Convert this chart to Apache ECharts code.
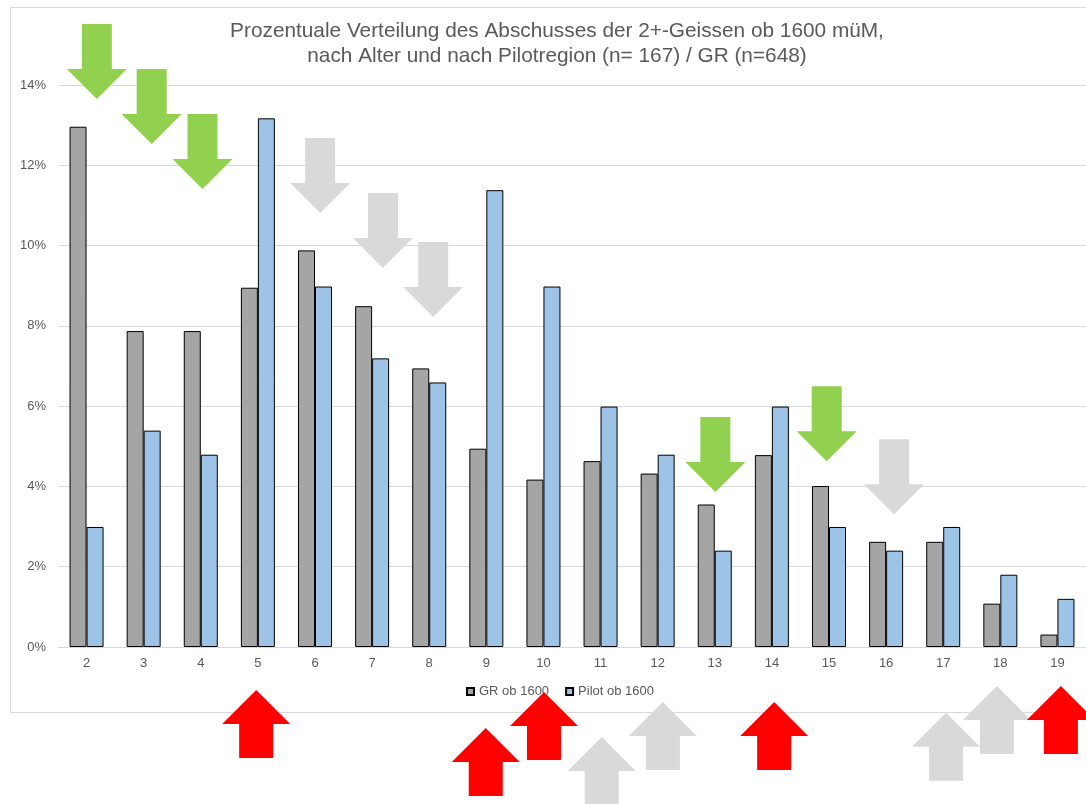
<!DOCTYPE html>
<html>
<head>
<meta charset="utf-8">
<script src="https://cdn.jsdelivr.net/npm/echarts@6/dist/echarts.min.js"></script>
<style>
  html, body { margin: 0; padding: 0; background: #ffffff; }
  #chart { width: 1086px; height: 804px; }
</style>
</head>
<body>
<div id="chart"></div>
<script>
// ---- data ----
const titleLines = [
  'Prozentuale Verteilung des Abschusses der 2+-Geissen ob 1600 müM,',
  'nach Alter und nach Pilotregion (n= 167) / GR (n=648)'
];
const categories = ['2','3','4','5','6','7','8','9','10','11','12','13','14','15','16','17','18','19'];
const grName = 'GR ob 1600';
const pilotName = 'Pilot ob 1600';
const grValues = [12.96, 7.87, 7.87, 8.95, 9.88, 8.49, 6.94, 4.94, 4.17, 4.63, 4.32, 3.55, 4.78, 4.01, 2.62, 2.62, 1.08, 0.31];
const pilotValues = [2.99, 5.39, 4.79, 13.17, 8.98, 7.19, 6.59, 11.38, 8.98, 5.99, 4.79, 2.40, 5.99, 2.99, 2.40, 2.99, 1.80, 1.20];
const yMin = 0, yMax = 14, yInterval = 2;

// annotation arrows: position along category axis (index), tip value (%)
const downArrowPos = [0.18, 1.14, 2.03, 4.09, 5.19, 6.07, 11.01, 12.96, 14.14];
const downArrowVal = [13.65, 12.53, 11.41, 10.81, 9.44, 8.22, 3.86, 4.63, 3.31];
const downArrowKind = ['green','green','green','grey','grey','grey','green','green','grey'];
const upArrowPos = [2.97, 6.99, 8.01, 9.02, 10.09, 12.04, 15.05, 15.94, 17.06];
const upArrowVal = [-1.07, -2.02, -1.12, -2.24, -1.37, -1.37, -1.64, -0.97, -0.97];
const upArrowKind = ['red','red','red','grey','grey','red','grey','grey','red'];

// ---- styles ----
const arrowColors = { green: '#92d050', grey: '#d9d9d9', red: '#ff0000' };
const textColor = '#595959';
const fontFamily = '"Liberation Sans", Arial, sans-serif';

const chart = echarts.init(document.getElementById('chart'), null, { renderer: 'canvas' });

const baseGraphics = [
  {
    type: 'rect', id: 'border', z: 0, silent: true,
    shape: { x: 10.5, y: 7.5, width: 1100, height: 705 },
    style: { fill: 'none', stroke: '#d9d9d9', lineWidth: 1 }
  },
  {
    type: 'text', id: 'title1', z: 10, x: 557, y: 31,
    style: { text: titleLines[0], fill: textColor, font: '20.8px ' + fontFamily, textAlign: 'center', textVerticalAlign: 'middle' }
  },
  {
    type: 'text', id: 'title2', z: 10, x: 557, y: 56,
    style: { text: titleLines[1], fill: textColor, font: '20.8px ' + fontFamily, textAlign: 'center', textVerticalAlign: 'middle' }
  }
];

chart.setOption({
  animation: false,
  backgroundColor: '#ffffff',
  textStyle: { fontFamily: fontFamily },
  grid: { left: 58, top: 85, width: 1029, bottom: 157, containLabel: false },
  legend: {
    data: [grName, pilotName],
    left: 466, top: 685, padding: 0,
    icon: 'rect', itemWidth: 7, itemHeight: 7, itemGap: 16,
    textStyle: { color: textColor, fontSize: 13, fontFamily: fontFamily }
  },
  xAxis: {
    type: 'category',
    data: categories,
    axisLine: { show: true, lineStyle: { color: '#d9d9d9', width: 1 } },
    axisTick: { show: false },
    axisLabel: { color: textColor, fontSize: 13, margin: 10, fontFamily: fontFamily },
    splitLine: { show: false }
  },
  yAxis: {
    type: 'value',
    min: yMin, max: yMax, interval: yInterval,
    axisLine: { show: false },
    axisTick: { show: false },
    axisLabel: { color: textColor, fontSize: 13, margin: 12, formatter: '{value}%', fontFamily: fontFamily },
    splitLine: { show: true, lineStyle: { color: '#d9d9d9', width: 1 } }
  },
  series: [
    {
      name: grName, type: 'bar', data: grValues,
      barWidth: 17, barGap: '0%',
      itemStyle: { color: '#a5a5a5', borderColor: '#000000', borderWidth: 1 }
    },
    {
      name: pilotName, type: 'bar', data: pilotValues,
      barWidth: 17, barGap: '0%',
      itemStyle: { color: '#9dc3e6', borderColor: '#000000', borderWidth: 1 }
    }
  ],
  graphic: baseGraphics
});

// place arrows via the chart's own scales
function toPixel(pos, val) {
  const i0 = Math.floor(pos);
  const p0 = chart.convertToPixel({ gridIndex: 0 }, [0, 0]);
  const p1 = chart.convertToPixel({ gridIndex: 0 }, [1, yInterval]);
  const pi = chart.convertToPixel({ gridIndex: 0 }, [i0, 0]);
  const band = p1[0] - p0[0];
  const perUnit = (p1[1] - p0[1]) / yInterval;
  return [pi[0] + (pos - i0) * band, p0[1] + val * perUnit];
}

const arrowGraphics = [];
downArrowPos.forEach(function (pos, k) {
  const t = toPixel(pos, downArrowVal[k]);
  const tx = t[0], ty = t[1];
  arrowGraphics.push({
    type: 'polygon', id: 'down' + k, z: 50, silent: true,
    shape: { points: [
      [tx - 15, ty - 75], [tx + 15, ty - 75], [tx + 15, ty - 30], [tx + 30, ty - 30],
      [tx, ty], [tx - 30, ty - 30], [tx - 15, ty - 30]
    ] },
    style: { fill: arrowColors[downArrowKind[k]] }
  });
});
upArrowPos.forEach(function (pos, k) {
  const t = toPixel(pos, upArrowVal[k]);
  const tx = t[0], ty = t[1];
  arrowGraphics.push({
    type: 'polygon', id: 'up' + k, z: 50, silent: true,
    shape: { points: [
      [tx, ty], [tx + 34, ty + 34], [tx + 17, ty + 34], [tx + 17, ty + 68],
      [tx - 17, ty + 68], [tx - 17, ty + 34], [tx - 34, ty + 34]
    ] },
    style: { fill: arrowColors[upArrowKind[k]] }
  });
});

chart.setOption({ graphic: baseGraphics.concat(arrowGraphics) });
</script>
</body>
</html>
